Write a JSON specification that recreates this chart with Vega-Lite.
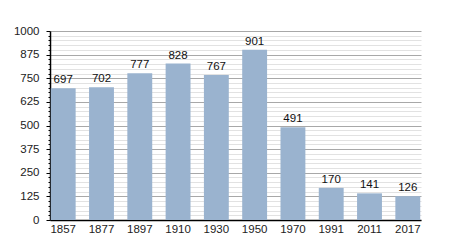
{
  "$schema": "https://vega.github.io/schema/vega-lite/v6.json",
  "width": 371,
  "height": 189,
  "autosize": "none",
  "padding": {"left": 50, "top": 31, "right": 29, "bottom": 30},
  "background": "white",
  "config": {
    "view": {"stroke": null},
    "font": "Liberation Sans",
    "axis": {"labelFont": "Liberation Sans", "labelFontSize": 11.5, "labelColor": "#222", "title": null}
  },
  "data": {
    "values": [
      {"year": "1857", "pop": 697},
      {"year": "1877", "pop": 702},
      {"year": "1897", "pop": 777},
      {"year": "1910", "pop": 828},
      {"year": "1930", "pop": 767},
      {"year": "1950", "pop": 901},
      {"year": "1970", "pop": 491},
      {"year": "1991", "pop": 170},
      {"year": "2011", "pop": 141},
      {"year": "2017", "pop": 126}
    ]
  },
  "encoding": {
    "x": {
      "field": "year",
      "type": "ordinal",
      "sort": null,
      "scale": {"paddingInner": 0.35, "paddingOuter": 0.02},
      "axis": {"labelAngle": 0, "ticks": false, "domainColor": "#000", "domainWidth": 1.5, "labelPadding": 3, "title": null}
    },
    "y": {
      "field": "pop",
      "type": "quantitative",
      "scale": {"domain": [0, 1000], "nice": false},
      "axis": {
        "values": [0,25,50,75,100,125,150,175,200,225,250,275,300,325,350,375,400,425,450,475,500,525,550,575,600,625,650,675,700,725,750,775,800,825,850,875,900,925,950,975,1000],
        "format": "d",
        "labelExpr": "datum.value % 125 === 0 ? datum.label : ''",
        "grid": true,
        "gridColor": {"condition": {"test": "datum.value % 125 === 0", "value": "#a8a8a8"}, "value": "#e2e2e2"},
        "gridWidth": 1,
        "tickColor": "#000",
        "tickSize": {"condition": {"test": "datum.value % 125 === 0", "value": 4}, "value": 2},
        "labelPadding": 7,
        "domainColor": "#000",
        "domainWidth": 1.5,
        "title": null
      }
    }
  },
  "layer": [
    {"mark": {"type": "bar", "color": "#9ab3cf"}},
    {"mark": {"type": "text", "baseline": "bottom", "dy": -3, "fontSize": 11.5, "color": "#111", "font": "Liberation Sans"},
     "encoding": {"text": {"field": "pop", "type": "quantitative"}}}
  ]
}
